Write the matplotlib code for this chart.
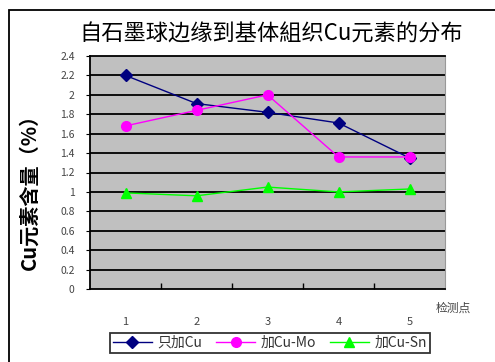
import matplotlib.pyplot as plt
import numpy as np
from matplotlib.patches import Rectangle

plt.rcParams['font.family'] = ['Noto Sans CJK SC', 'DejaVu Sans']

points = [1, 2, 3, 4, 5]
cu_only = [2.2, 1.91, 1.82, 1.71, 1.35]
cu_mo = [1.68, 1.84, 2.0, 1.36, 1.36]
cu_sn = [0.99, 0.96, 1.05, 1.0, 1.03]
y_ticks = np.round(np.arange(0, 2.41, 0.2), 1)

fig = plt.figure(figsize=(4.95, 3.62), dpi=100)
ax = fig.add_axes([90 / 495, 73 / 362, 355 / 495, 233 / 362])
ax.set_facecolor('#c0c0c0')

ax.plot(points, cu_only, color='#000080', marker='D', markersize=6, lw=1, label='只加Cu', zorder=4)
ax.plot(points, cu_mo, color='#ff00ff', marker='o', markersize=7, lw=1, label='加Cu-Mo', zorder=4)
ax.plot(points, cu_sn, color='#00ff00', marker='^', markersize=7, lw=1, label='加Cu-Sn', zorder=4)

ax.set_xlim(0.5, 5.5)
ax.set_ylim(0, 2.4)
ax.set_yticks(y_ticks)
ax.set_yticklabels([f'{v:g}' for v in y_ticks], fontsize=7.5, color='#444444')
for v in y_ticks[1:-1]:
    ax.axhline(v, color='black', lw=1.3, zorder=1)

ax.set_xticks(points)
ax.set_xticklabels([str(p) for p in points], fontsize=8, color='#444444')
ax.set_xticks(np.arange(1.5, 5.5, 1), minor=True)
ax.tick_params(axis='x', which='major', length=0, pad=20)
ax.tick_params(axis='x', which='minor', direction='in', length=4, width=1)
ax.tick_params(axis='y', length=3, pad=8)

for side in ['left', 'bottom', 'top']:
    ax.spines[side].set_color('black')
    ax.spines[side].set_linewidth(1.3)
ax.spines['right'].set_color('#999999')

fig.text(0.548, 0.905, '自石墨球边缘到基体組织Cu元素的分布', fontsize=16,
         ha='center', va='center')
fig.text(0.058, 0.485, 'Cu元素含量（%）', fontsize=14.5, fontweight='bold',
         rotation=90, ha='center', va='center')
fig.text(0.915, 0.15, '检测点', fontsize=8.5, color='#444444', ha='center', va='center')

# outer chart frame
fig.patches.append(Rectangle((9 / 495, -0.05), 1.2, 352 / 362 + 0.05,
                             transform=fig.transFigure, fill=False,
                             edgecolor='black', lw=1.3))

leg = fig.legend(loc='center', bbox_to_anchor=(270 / 495, 19 / 362), ncol=3,
                 fontsize=10, frameon=True, fancybox=False, edgecolor='black',
                 handlelength=2.8, columnspacing=1.0, handletextpad=0.4,
                 borderpad=0.25)
leg.get_frame().set_linewidth(1.3)
for t in leg.get_texts():
    t.set_color('#333333')

fig.savefig('out.png', dpi=100)
